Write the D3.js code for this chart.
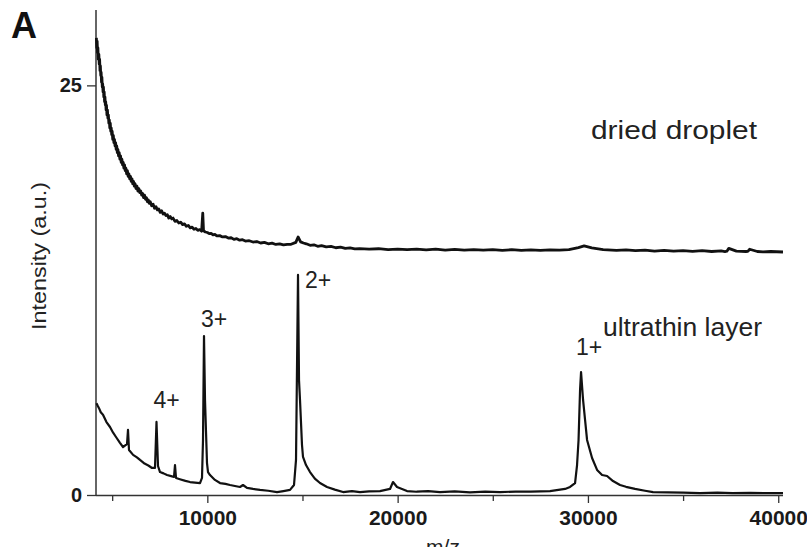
<!DOCTYPE html>
<html>
<head>
<meta charset="utf-8">
<script src="https://cdn.jsdelivr.net/npm/d3@7"></script>
<style>
  html, body { margin: 0; padding: 0; background: #fff; }
  svg { display: block; }
</style>
</head>
<body>
<svg id="chart" width="807" height="547"></svg>
<script>
// ---- data ----
const xMajorTicks = [10000, 20000, 30000, 40000];
const xMinorTicks = [5000, 15000, 25000, 35000];
const yTicks = [0, 25];

// dried droplet spectrum [m/z, intensity]
const driedMz = [4170,4190,4210,4230,4250,4270,4300,4320,4340,4360,4380,4400,4420,4440,4460,4480,4500,4520,4540,4560,4580,4600,4620,4640,4660,4680,4700,4725,4750,4775,4800,4825,4850,4875,4900,4925,4950,4975,5000,5030,5060,5090,5120,5150,5180,5210,5240,5270,5300,5335,5370,5405,5440,5475,5510,5545,5580,5615,5650,5685,5720,5760,5800,5840,5880,5920,5960,6000,6040,6080,6120,6160,6200,6250,6300,6350,6400,6450,6500,6550,6600,6650,6700,6750,6800,6850,6900,6950,7000,7075,7150,7225,7300,7375,7450,7525,7600,7675,7750,7825,7900,7975,8050,8125,8200,8300,8400,8500,8600,8700,8800,8900,9000,9100,9200,9300,9400,9500,9600,9700,9760,9800,9900,10000,10100,10200,10300,10400,10500,10650,10800,10950,11100,11250,11400,11550,11700,11850,12000,12200,12400,12600,12800,13000,13200,13400,13600,13800,14000,14200,14400,14650,14770,14900,15050,15200,15400,15600,15800,16000,16250,16500,16750,17000,17250,17500,17750,18000,18500,19000,19500,20000,20500,21000,21500,22000,22500,23000,23500,24000,24500,25000,25500,26000,26500,27000,27500,28000,28500,29000,29500,29800,30200,30800,31500,32000,32500,33000,33500,34000,34500,35000,35500,36000,36500,37000,37200,37300,37400,37800,38300,38400,38500,38900,39200,39600,40250];
const driedInt = [27.9,27.3,27.7,27.0,27.3,26.6,26.9,26.3,26.6,25.9,26.2,25.6,25.8,25.2,25.5,24.9,25.1,24.6,24.9,24.3,24.6,24.0,24.3,23.8,24.0,23.5,23.8,23.2,23.5,23.0,23.2,22.7,22.9,22.4,22.7,22.2,22.4,22.0,22.2,21.7,21.95,21.5,21.7,21.3,21.5,21.1,21.3,20.9,21.1,20.7,20.9,20.5,20.7,20.3,20.5,20.15,20.3,19.95,20.15,19.8,19.95,19.6,19.8,19.45,19.6,19.3,19.45,19.15,19.3,19.0,19.15,18.85,19.0,18.7,18.85,18.55,18.7,18.45,18.55,18.3,18.4,18.15,18.3,18.05,18.15,17.9,18.0,17.8,17.9,17.65,17.75,17.5,17.6,17.4,17.45,17.25,17.35,17.15,17.2,17.05,17.1,16.9,17.0,16.85,16.9,16.7,16.75,16.6,16.65,16.5,16.55,16.4,16.45,16.3,16.35,16.22,16.27,16.15,16.2,16.1,17.2,16.12,16.05,16.02,15.95,15.97,15.88,15.9,15.82,15.83,15.75,15.77,15.68,15.7,15.6,15.64,15.55,15.58,15.5,15.52,15.44,15.47,15.38,15.42,15.33,15.37,15.29,15.33,15.26,15.3,15.3,15.42,15.75,15.45,15.38,15.33,15.24,15.27,15.18,15.22,15.14,15.17,15.09,15.13,15.05,15.08,15.02,15.04,15.0,15.03,14.97,15.01,14.97,15.0,14.96,15.0,14.95,14.99,14.94,14.98,14.94,14.97,14.93,14.97,14.93,14.96,14.93,14.96,14.94,14.97,15.1,15.2,15.08,14.98,14.93,14.96,14.91,14.95,14.89,14.93,14.88,14.92,14.87,14.91,14.86,14.9,14.86,14.88,15.05,14.88,14.86,14.87,15.0,14.86,14.84,14.86,14.83,14.84];

// ultrathin layer spectrum [m/z, intensity]
const thinMz = [4176,4240,4308,4400,4518,4700,4886,5050,5201,5400,5569,5779,5832,5884,6100,6300,6462,6700,6900,7093,7250,7329,7408,7513,7700,7881,8100,8249,8301,8354,8600,8850,9090,9350,9615,9720,9773,9825,9878,9983,10036,10141,10400,10666,10950,11192,11450,11717,11875,12085,12400,12768,13200,13662,14000,14345,14555,14660,14765,14818,14870,14975,15028,15186,15396,15650,15921,16289,16700,17130,17600,18023,18500,19074,19600,19757,19968,20493,21000,21600,22227,23000,23800,24600,25380,26200,27000,28008,28797,29060,29323,29428,29507,29586,29638,29744,29849,29954,30217,30480,30743,31006,31317,31687,32000,32475,33000,33421,34200,35000,35892,36800,37600,38520,39300,40250];
const thinInt = [5.6,5.45,5.3,5.05,4.9,4.45,4.15,3.8,3.54,3.2,2.93,3.1,3.97,2.75,2.45,2.3,2.14,1.92,1.8,1.65,1.65,4.46,1.77,1.40,1.32,1.22,1.15,1.10,1.83,1.04,0.95,0.86,0.79,0.76,0.73,1.04,3.36,9.70,5.8,1.95,1.40,1.22,0.92,0.73,0.68,0.61,0.55,0.49,0.61,0.43,0.37,0.31,0.26,0.18,0.24,0.31,0.61,2.14,13.43,7.0,5.8,3.05,2.32,1.83,1.40,1.0,0.73,0.49,0.33,0.18,0.24,0.18,0.22,0.24,0.37,0.79,0.49,0.24,0.2,0.24,0.18,0.22,0.16,0.2,0.18,0.21,0.2,0.24,0.37,0.49,0.73,1.83,3.36,6.4,7.5,5.8,4.58,3.36,2.26,1.53,1.22,1.16,0.85,0.61,0.5,0.37,0.26,0.18,0.16,0.14,0.12,0.15,0.12,0.13,0.11,0.12];

const peakLabels = ["4+", "3+", "2+", "1+"];
const peakMz = [7329, 9825, 14765, 29638];
const seriesNames = ["dried droplet", "ultrathin layer"];

// ---- drawing ----
const svg = d3.select("#chart");
const font = "'Liberation Sans', Arial, Helvetica, sans-serif";

const x = d3.scaleLinear().domain([4150, 40250]).range([96, 783]);
const y = d3.scaleLinear().domain([0, 29.6]).range([495, 10]);

const line = d3.line().x(d => x(d[0])).y(d => y(d[1]));
const dried = driedMz.map((m, i) => [m, driedInt[i]]);
const thin = thinMz.map((m, i) => [m, thinInt[i]]);

// axes
const xAxisMajor = d3.axisBottom(x).tickValues(xMajorTicks).tickSize(8).tickPadding(7).tickFormat(d3.format("d"));
const xAxisMinor = d3.axisBottom(x).tickValues(xMinorTicks).tickSize(6).tickFormat("");
const yAxis = d3.axisLeft(y).tickValues(yTicks).tickSize(9).tickPadding(5).tickFormat(d3.format("d"));

const gx = svg.append("g").attr("transform", "translate(0,495)").call(xAxisMajor);
gx.select(".domain").remove();
gx.selectAll("text").attr("font-family", font).attr("font-size", 21).attr("font-weight", "bold").attr("fill", "#1a1a1a");
gx.selectAll("line").attr("stroke", "#333").attr("stroke-width", 1.3);
const gxm = svg.append("g").attr("transform", "translate(0,495)").call(xAxisMinor);
gxm.select(".domain").remove();
gxm.selectAll("line").attr("stroke", "#333").attr("stroke-width", 1.3);

const gy = svg.append("g").attr("transform", "translate(96,0)").call(yAxis);
gy.select(".domain").remove();
gy.selectAll("text").attr("font-family", font).attr("font-size", 20).attr("font-weight", "bold").attr("fill", "#1a1a1a");
gy.selectAll("line").attr("stroke", "#333").attr("stroke-width", 1.3);

// axis lines
svg.append("line").attr("x1", 96).attr("x2", 96).attr("y1", 10).attr("y2", 496)
  .attr("stroke", "#333").attr("stroke-width", 1.5);
svg.append("line").attr("x1", 96).attr("x2", 783).attr("y1", 495.5).attr("y2", 495.5)
  .attr("stroke", "#333").attr("stroke-width", 1.5);

// spectra
svg.append("path").datum(dried).attr("d", line).attr("fill", "none")
  .attr("stroke", "#111").attr("stroke-width", 2.8).attr("stroke-linejoin", "round");
svg.append("path").datum(thin).attr("d", line).attr("fill", "none")
  .attr("stroke", "#111").attr("stroke-width", 2.2).attr("stroke-linejoin", "round");

// peak labels (baseline positions relative to peak tops)
const peakDx = [10, 10, 20, 8];
const peakTop = [4.46, 9.70, 13.43, 7.5];
const peakDy = [-14, -9, 13, -17];
peakLabels.forEach((t, i) => {
  svg.append("text").attr("x", x(peakMz[i]) + peakDx[i]).attr("y", y(peakTop[i]) + peakDy[i])
    .attr("text-anchor", "middle").attr("font-family", font).attr("font-size", 23).attr("fill", "#222").text(t);
});

// series labels
svg.append("text").attr("x", 591).attr("y", 139).attr("font-family", font).attr("font-size", 25)
  .attr("textLength", 166).attr("lengthAdjust", "spacingAndGlyphs")
  .attr("fill", "#222").text(seriesNames[0]);
svg.append("text").attr("x", 603).attr("y", 336).attr("font-family", font).attr("font-size", 25)
  .attr("textLength", 159).attr("lengthAdjust", "spacingAndGlyphs")
  .attr("fill", "#222").text(seriesNames[1]);

// axis titles
svg.append("text").attr("transform", "translate(46,256) rotate(-90)").attr("text-anchor", "middle")
  .attr("font-family", font).attr("font-size", 21).attr("textLength", 148).attr("lengthAdjust", "spacingAndGlyphs")
  .attr("fill", "#222").text("Intensity (a.u.)");
svg.append("text").attr("x", 443).attr("y", 554).attr("text-anchor", "middle")
  .attr("font-family", font).attr("font-size", 21).attr("fill", "#222").text("m/z");

// panel letter
svg.append("text").attr("x", 11).attr("y", 38).attr("font-family", font).attr("font-size", 36)
  .attr("font-weight", "bold").attr("fill", "#111").text("A");
</script>
</body>
</html>
